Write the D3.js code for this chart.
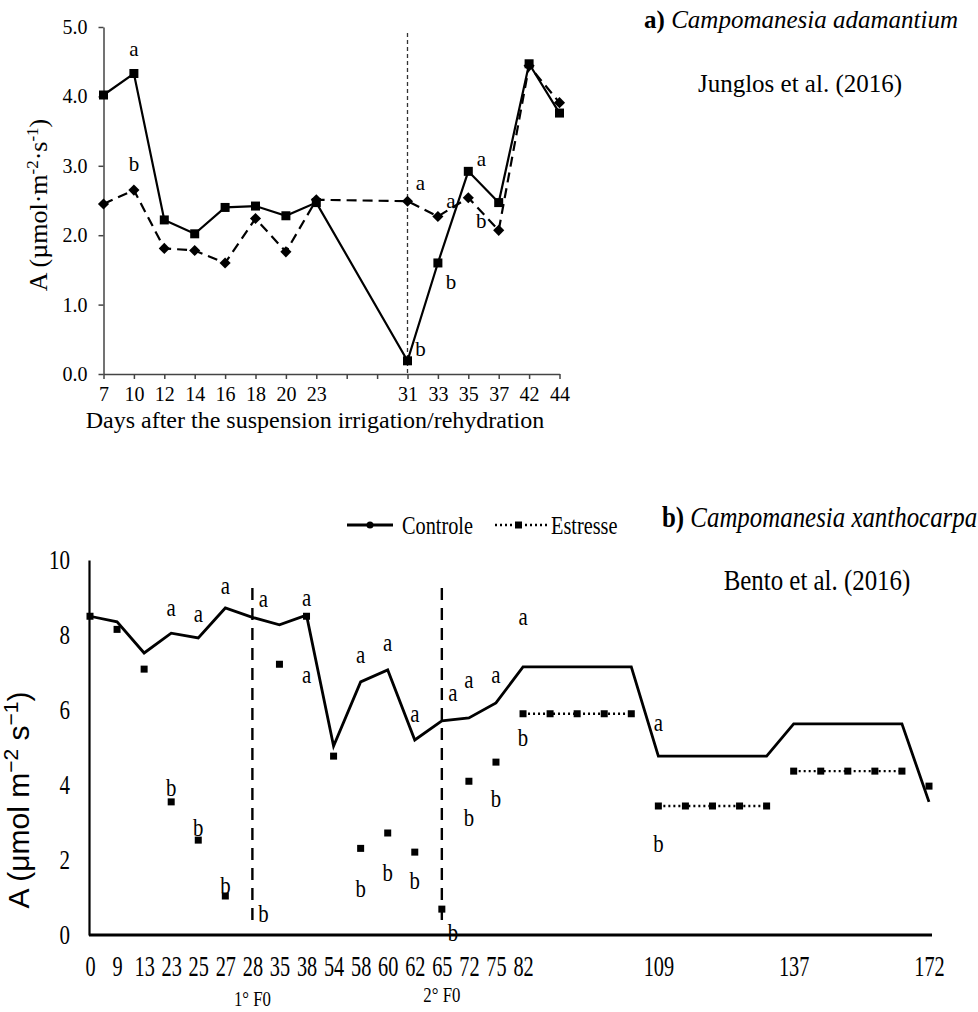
<!DOCTYPE html>
<html>
<head>
<meta charset="utf-8">
<script src="https://cdn.jsdelivr.net/npm/d3@7"></script>
<style>
  body { margin: 0; background: #fff; }
  text { font-family: "Liberation Serif", "Times New Roman", serif; fill: #000; }
</style>
</head>
<body>
<svg id="chart" width="978" height="1012"></svg>
<script>
// ---------- panel a) Campomanesia adamantium (Junglos et al. 2016)
var aDays = ['7', '10', '12', '14', '16', '18', '20', '23', '', '', '31', '33', '35', '37', '42', '44'];
var aControl = [4.02, 4.33, 2.22, 2.02, 2.40, 2.42, 2.28, 2.47, null, null, 0.19, 1.60, 2.92, 2.47, 4.47, 3.76];
var aStress = [2.45, 2.65, 1.81, 1.78, 1.60, 2.24, 1.76, 2.51, null, null, 2.49, 2.27, 2.54, 2.07, 4.44, 3.91];
var aTicks = [0, 1, 2, 3, 4, 5];
var aLetters = [['10', 4.68, 'a'], ['10', 3.03, 'b'], ['31', 2.75, 'a'], ['31', 0.36, 'b'],
                ['33', 2.50, 'a'], ['33', 1.33, 'b'], ['35', 3.10, 'a'], ['35', 2.20, 'b']];
var aRehydration = '31';

// ---------- panel b) Campomanesia xanthocarpa (Bento et al. 2016)
var bDays = ['0', '9', '13', '23', '25', '27', '28', '35', '38', '54', '58', '60', '62', '65', '72', '75', '82',
             '', '', '', '', '109', '', '', '', '', '137', '', '', '', '', '172'];
var bControl = [8.50, 8.35, 7.52, 8.05, 7.92, 8.72, 8.47, 8.27, 8.53, 5.04, 6.75, 7.07, 5.20, 5.71, 5.79, 6.19, 7.15,
                7.15, 7.15, 7.15, 7.15, 4.77, 4.77, 4.77, 4.77, 4.77, 5.63, 5.63, 5.63, 5.63, 5.63, 3.55];
var bStress = [8.50, 8.15, 7.09, 3.55, 2.53, 1.04, null, 7.22, 8.50, 4.77, 2.31, 2.72, 2.21, 0.69, 4.10, 4.61, 5.90,
               5.90, 5.90, 5.90, 5.90, 3.44, 3.44, 3.44, 3.44, 3.44, 4.37, 4.37, 4.37, 4.37, 4.37, 3.97];
// which stress points are joined by the dotted line (0 = lone point)
var bStressRun = [0, 0, 0, 0, 0, 0, 0, 0, 0, 0, 0, 0, 0, 0, 0, 0, 1,
                  1, 1, 1, 1, 2, 2, 2, 2, 2, 3, 3, 3, 3, 3, 0];
var bTicks = [0, 2, 4, 6, 8, 10];
var bLetters = [['23', 8.75, 'a'], ['25', 8.59, 'a'], ['27', 9.33, 'a'], ['28', 8.99, 'a'], ['38', 6.96, 'a'],
                ['38', 9.01, 'a'], ['58', 7.49, 'a'], ['60', 7.81, 'a'], ['62', 5.92, 'a'], ['65', 6.48, 'a'],
                ['72', 6.83, 'a'], ['75', 6.96, 'a'], ['82', 8.51, 'a'], ['109', 5.68, 'a'],
                ['23', 3.95, 'b'], ['25', 2.88, 'b'], ['27', 1.33, 'b'], ['28', 0.59, 'b'], ['58', 1.25, 'b'],
                ['60', 1.68, 'b'], ['62', 1.47, 'b'], ['65', 0.08, 'b'], ['72', 3.15, 'b'], ['75', 3.65, 'b'],
                ['82', 5.28, 'b'], ['109', 2.45, 'b']];
var bPhaseDays = ['28', '65'];
var bPhaseLabels = ['1° F0', '2° F0'];

var svg = d3.select('#chart');

// text with optional horizontal squeeze (panel b was printed narrow)
var addText = function (parent, x, y, size, sx) {
    return parent.append('text')
        .attr('transform', 'translate(' + x + ',' + y + ') scale(' + (sx || 1) + ',1)')
        .attr('font-size', size);
};

// ======================= panel a =======================
var gA = svg.append('g');
var ax = d3.scalePoint().domain(d3.range(aDays.length)).range([103.5, 559.5]);
var ay = d3.scaleLinear().domain([0, 5]).range([374, 27]);

var yAxisA = gA.append('g').attr('transform', 'translate(103.5,0)')
    .call(d3.axisLeft(ay).tickValues(aTicks).tickFormat(d3.format('.1f')).tickSize(5).tickSizeOuter(0).tickPadding(11));
var xAxisA = gA.append('g').attr('transform', 'translate(0,374)')
    .call(d3.axisBottom(ax).tickFormat(function (i) { return aDays[i]; }).tickSize(5).tickSizeOuter(0).tickPadding(8));
[yAxisA, xAxisA].forEach(function (g) {
    g.select('.domain').attr('stroke', '#444').attr('stroke-width', 1.5);
    g.selectAll('.tick line').attr('stroke', '#444').attr('stroke-width', 1.5);
    g.selectAll('.tick text').attr('font-size', 20).attr('font-family', '"Liberation Serif", serif').attr('fill', '#000');
});

// rehydration line
var iReh = aDays.indexOf(aRehydration);
gA.append('line')
    .attr('x1', ax(iReh)).attr('x2', ax(iReh))
    .attr('y1', 33).attr('y2', ay(0))
    .attr('stroke', '#333').attr('stroke-width', 1.3).attr('stroke-dasharray', '4,3');

var ptsA = function (vals) {
    return vals.map(function (v, i) { return { i: i, v: v }; }).filter(function (d) { return d.v !== null; });
};
var lineA = d3.line().x(function (d) { return ax(d.i); }).y(function (d) { return ay(d.v); });

gA.append('path').datum(ptsA(aStress)).attr('d', lineA)
    .attr('fill', 'none').attr('stroke', '#000').attr('stroke-width', 2.2).attr('stroke-dasharray', '10,6');
gA.append('path').datum(ptsA(aControl)).attr('d', lineA)
    .attr('fill', 'none').attr('stroke', '#000').attr('stroke-width', 2.2);

gA.selectAll('path.dia').data(ptsA(aStress)).enter().append('path')
    .attr('class', 'dia')
    .attr('d', d3.symbol().type(d3.symbolSquare).size(62))
    .attr('transform', function (d) { return 'translate(' + ax(d.i) + ',' + ay(d.v) + ') rotate(45)'; })
    .attr('fill', '#000');
gA.selectAll('rect.sq').data(ptsA(aControl)).enter().append('rect')
    .attr('class', 'sq')
    .attr('x', function (d) { return ax(d.i) - 4.5; })
    .attr('y', function (d) { return ay(d.v) - 4.5; })
    .attr('width', 9).attr('height', 9)
    .attr('fill', '#000');

gA.selectAll('text.let').data(aLetters).enter().append('text')
    .attr('class', 'let')
    .attr('x', function (d) { return ax(aDays.indexOf(d[0])) + (+d[0] >= 31 ? 13 : 0); })
    .attr('y', function (d) { return ay(d[1]); })
    .attr('dominant-baseline', 'central')
    .attr('text-anchor', 'middle')
    .attr('font-size', 21)
    .text(function (d) { return d[2]; });

// axis titles
var aYT = gA.append('text')
    .attr('transform', 'translate(47,205) rotate(-90)')
    .attr('text-anchor', 'middle').attr('font-size', 26);
aYT.append('tspan').text('A (µmol·m');
aYT.append('tspan').attr('dy', -9).attr('font-size', 17).text('-2');
aYT.append('tspan').attr('dy', 9).text('·s');
aYT.append('tspan').attr('dy', -9).attr('font-size', 17).text('-1');
aYT.append('tspan').attr('dy', 9).text(')');

gA.append('text').attr('x', 315).attr('y', 428)
    .attr('text-anchor', 'middle').attr('font-size', 24)
    .text('Days after the suspension irrigation/rehydration');

var aTitle = gA.append('text').attr('x', 958).attr('y', 28).attr('text-anchor', 'end').attr('font-size', 25);
aTitle.append('tspan').attr('font-weight', 'bold').text('a) ');
aTitle.append('tspan').attr('font-style', 'italic').text('Campomanesia adamantium');
gA.append('text').attr('x', 800).attr('y', 92).attr('text-anchor', 'middle').attr('font-size', 25)
    .text('Junglos et al. (2016)');

// ======================= panel b =======================
var gB = svg.append('g');
var bx = d3.scalePoint().domain(d3.range(bDays.length)).range([90, 929]);
var by = d3.scaleLinear().domain([0, 10]).range([935, 560]);

var yAxisB = gB.append('g').attr('transform', 'translate(89,0)')
    .call(d3.axisLeft(by).tickValues(bTicks).tickSize(0).tickSizeOuter(0));
yAxisB.select('.domain').attr('stroke', '#000').attr('stroke-width', 2.2);
yAxisB.selectAll('.tick text')
    .attr('x', null)
    .attr('transform', 'translate(-19,0) scale(0.75,1)')
    .attr('font-size', 28).attr('font-family', '"Liberation Serif", serif').attr('fill', '#000');

var xAxisB = gB.append('g').attr('transform', 'translate(0,935)')
    .call(d3.axisBottom(bx).tickFormat(function (i) { return bDays[i]; }).tickSize(0).tickSizeOuter(0).tickPadding(20));
xAxisB.select('.domain').attr('stroke', '#000').attr('stroke-width', 3)
    .attr('d', 'M89,0H932');
xAxisB.selectAll('.tick text')
    .attr('transform', 'scale(0.7,1)')
    .attr('font-size', 29).attr('font-family', '"Liberation Serif", serif').attr('fill', '#000');

// phase lines
bPhaseDays.forEach(function (day, k) {
    var xp = bx(bDays.indexOf(day));
    gB.append('line')
        .attr('x1', xp).attr('x2', xp).attr('y1', 588).attr('y2', 928)
        .attr('stroke', '#000').attr('stroke-width', 2.4).attr('stroke-dasharray', '12,8');
    addText(gB, xp, 999 - k * 4, 21, 0.8).attr('text-anchor', 'middle')
        .attr('dominant-baseline', 'central').text(bPhaseLabels[k]);
});

var ptsB = function (vals) {
    return vals.map(function (v, i) { return { i: i, v: v, run: bStressRun[i] }; })
        .filter(function (d) { return d.v !== null; });
};
var lineB = d3.line().x(function (d) { return bx(d.i); }).y(function (d) { return by(d.v); });

gB.append('path').datum(ptsB(bControl)).attr('d', lineB)
    .attr('fill', 'none').attr('stroke', '#000').attr('stroke-width', 2.8).attr('stroke-linejoin', 'miter');

var runs = d3.groups(ptsB(bStress).filter(function (d) { return d.run > 0; }), function (d) { return d.run; });
gB.selectAll('path.run').data(runs).enter().append('path')
    .attr('class', 'run')
    .attr('d', function (r) { return lineB(r[1]); })
    .attr('fill', 'none').attr('stroke', '#000').attr('stroke-width', 2.4).attr('stroke-dasharray', '2,3');
gB.selectAll('rect.sq').data(ptsB(bStress)).enter().append('rect')
    .attr('class', 'sq')
    .attr('x', function (d) { return bx(d.i) - 3.5; })
    .attr('y', function (d) { return by(d.v) - 3.5; })
    .attr('width', 7).attr('height', 7)
    .attr('fill', '#000');

gB.selectAll('text.let').data(bLetters).enter().append('text')
    .attr('class', 'let')
    .attr('transform', function (d) {
        var xl = bx(bDays.indexOf(d[0])) + (bPhaseDays.indexOf(d[0]) >= 0 ? 11 : 0);
        return 'translate(' + xl + ',' + by(d[1]) + ') scale(0.8,1)';
    })
    .attr('dominant-baseline', 'central')
    .attr('text-anchor', 'middle')
    .attr('font-size', 26)
    .text(function (d) { return d[2]; });

// y title
var bYT = gB.append('text')
    .attr('transform', 'translate(29,800) rotate(-90)')
    .attr('text-anchor', 'middle').attr('font-size', 30)
    .style('font-family', '"Liberation Sans", Arial, sans-serif');
bYT.append('tspan').text('A (μmol m');
bYT.append('tspan').attr('dy', -11).attr('font-size', 21).text('−2');
bYT.append('tspan').attr('dy', 11).text(' s');
bYT.append('tspan').attr('dy', -11).attr('font-size', 21).text('−1');
bYT.append('tspan').attr('dy', 11).text(')');

// legend
var lg = gB.append('g');
lg.append('line').attr('x1', 347).attr('x2', 393).attr('y1', 525).attr('y2', 525)
    .attr('stroke', '#000').attr('stroke-width', 2.8);
lg.append('circle').attr('cx', 370).attr('cy', 525).attr('r', 3.5).attr('fill', '#000');
addText(lg, 402, 525, 26, 0.78).attr('dominant-baseline', 'central').text('Controle');
lg.append('line').attr('x1', 495).attr('x2', 547).attr('y1', 525).attr('y2', 525)
    .attr('stroke', '#000').attr('stroke-width', 2.4).attr('stroke-dasharray', '2,3');
lg.append('rect').attr('x', 515).attr('y', 521.5).attr('width', 7).attr('height', 7).attr('fill', '#000');
addText(lg, 551, 525, 26, 0.78).attr('dominant-baseline', 'central').text('Estresse');

var bTitle = addText(gB, 662, 527, 30, 0.83);
bTitle.append('tspan').attr('font-weight', 'bold').text('b) ');
bTitle.append('tspan').attr('font-style', 'italic').text('Campomanesia xanthocarpa');
addText(gB, 817, 590, 30, 0.83).attr('text-anchor', 'middle').text('Bento et al. (2016)');
</script>
</body>
</html>
